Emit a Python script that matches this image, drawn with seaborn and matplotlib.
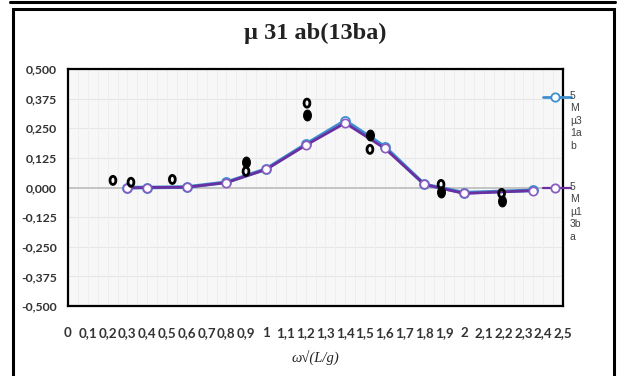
import numpy as np
import pandas as pd
import matplotlib
matplotlib.use("Agg")
import matplotlib.pyplot as plt
from matplotlib.path import Path
from matplotlib.lines import Line2D
from matplotlib.patches import Rectangle
import seaborn as sns

# Model curves (two close variants)
x_model = [0.3, 0.4, 0.6, 0.8, 1.0, 1.2, 1.4, 1.6, 1.8, 2.0, 2.35]
y_model_a = [0.000, 0.000, 0.002, 0.022, 0.078, 0.182, 0.282, 0.172, 0.013, -0.022, -0.012]
y_model_b = [-0.002, 0.000, 0.001, 0.021, 0.076, 0.178, 0.272, 0.165, 0.013, -0.025, -0.013]

# Measured points: open and filled symbols
x_open = [0.227, 0.318, 0.527, 0.899, 1.207, 1.525, 1.884, 2.19]
y_open = [0.030, 0.022, 0.034, 0.068, 0.356, 0.161, 0.013, -0.025]
x_filled = [0.899, 1.207, 1.525, 1.884, 2.19]
y_filled = [0.106, 0.305, 0.220, -0.021, -0.058]

series_a_label = "5\nM\nµ3\n1a\nb"
series_b_label = "5\nM\nµ1\n3b\na"
title_text = "µ 31 ab(13ba)"
x_label = "ω√(L/g)"

x_ticks = np.round(np.arange(0, 2.5001, 0.1), 1)
y_ticks = np.arange(-0.5, 0.5001, 0.125)

BLUE = "#3d8fd0"
PURPLE = "#6a2fa0"

sns.set_theme(style="white")
plt.rcParams["font.family"] = ["Lato", "DejaVu Sans"]

W, H = 622, 376
fig = plt.figure(figsize=(W / 100, H / 100), dpi=100)
ax = fig.add_axes([68 / W, 1 - 306 / H, (563 - 68) / W, (306 - 69) / H])
ax.set_facecolor("#f7f7f7")

# light grid
for yv in y_ticks:
    ax.axhline(yv, color="#e6e6e6", lw=0.8, zorder=0)
for xv in np.arange(0.05, 2.5, 0.05):
    ax.axvline(xv, color="#ededed", lw=0.6, zorder=0)
ax.axhline(0, color="#c4c4c4", lw=1.4, zorder=0.5)

df = pd.DataFrame({"x": x_model, "a": y_model_a, "b": y_model_b})
sns.lineplot(data=df, x="x", y="a", ax=ax, color=BLUE, lw=2.6, marker="o",
             markersize=6.5, markerfacecolor="white", markeredgecolor=BLUE,
             markeredgewidth=1.3, zorder=2, sort=False)
sns.lineplot(data=df, x="x", y="b", ax=ax, color=PURPLE, lw=2.0, marker="o",
             markersize=6, markerfacecolor="white", markeredgecolor="#8a5cc0",
             markeredgewidth=1.2, zorder=3, sort=False)

# tall elliptical symbol for the measured points
t = np.linspace(0, 2 * np.pi, 61)
ell = Path(np.column_stack([0.72 * np.cos(t), np.sin(t)]))

sns.scatterplot(x=x_filled, y=y_filled, ax=ax, marker=ell, s=60,
                facecolor="black", edgecolor="black", linewidth=0.8, zorder=4)
sns.scatterplot(x=x_open, y=y_open, ax=ax, marker=ell, s=34,
                facecolor="none", edgecolor="black", linewidth=2.0, zorder=5)

ax.set_xlim(0, 2.5)
ax.set_ylim(-0.5, 0.5)


def fmt_x(v):
    s = f"{v:.1f}".rstrip("0").rstrip(".")
    return s.replace(".", ",")


ax.set_xticks(x_ticks)
ax.set_xticklabels([fmt_x(v) for v in x_ticks], fontsize=9.6, fontweight="bold", color="#333333")
ax.set_yticks(y_ticks)
ax.set_yticklabels([f"{v:.3f}".replace(".", ",") for v in y_ticks], fontsize=8.8,
                   fontweight="bold", color="#333333")
ax.tick_params(axis="x", length=0, pad=15)
ax.tick_params(axis="y", length=0, pad=8)
ax.set_xlabel("")
ax.set_ylabel("")

for sp in ax.spines.values():
    sp.set_visible(True)
    sp.set_color("black")
    sp.set_linewidth(1.6)

fig.text(315 / W, 1 - 357 / H, x_label, ha="center", va="center", fontsize=10.5,
         style="italic", family=["Liberation Serif", "DejaVu Serif"], color="#222222")

fig.text(315 / W, 1 - 33 / H, title_text, ha="center", va="center", fontsize=17.5,
         fontweight="bold", family=["Liberation Serif", "DejaVu Serif"], color="#222222")

# legend entries at the right edge
for y_px, col, edge, lw, lab in [(97, BLUE, BLUE, 2.0, series_a_label),
                                 (188, PURPLE, "#8a5cc0", 1.6, series_b_label)]:
    yy = 1 - y_px / H
    fig.add_artist(Line2D([543 / W, 571 / W], [yy, yy], color=col, lw=lw,
                          marker=None, transform=fig.transFigure))
    fig.add_artist(Line2D([555 / W], [yy], color=col, marker="o", markersize=6,
                          markerfacecolor="white", markeredgecolor=edge,
                          markeredgewidth=1.3, transform=fig.transFigure))
    fig.text(570 / W, 1 - (y_px - 6) / H, lab, ha="left", va="top", fontsize=7.5,
             linespacing=1.3, color="#404040", family=["Liberation Sans", "DejaVu Sans"])

# outer frames
fig.add_artist(Rectangle((12.5 / W, -0.02), (614 - 12.5) / W, 1 - 9 / H + 0.02,
                         transform=fig.transFigure, fill=False, ec="black", lw=2.2))
fig.add_artist(Line2D([10 / W, 615 / W], [1 - 1.5 / H, 1 - 1.5 / H], color="black",
                      lw=2.2, transform=fig.transFigure))

fig.savefig("out.png", dpi=100)
